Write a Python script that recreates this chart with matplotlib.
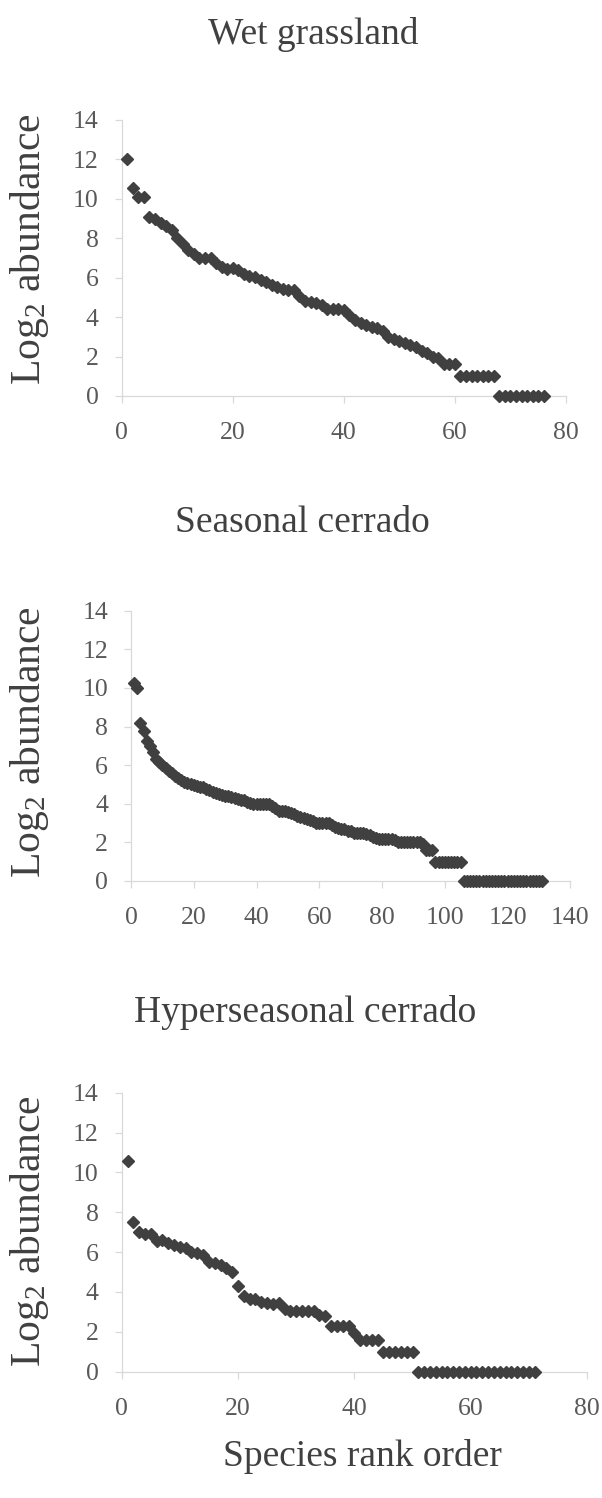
import numpy as np
import matplotlib
matplotlib.use("Agg")
import matplotlib.pyplot as plt

plt.rcParams['font.family'] = ['Liberation Serif', 'DejaVu Serif']
plt.rcParams['mathtext.fontset'] = 'custom'
plt.rcParams['mathtext.rm'] = 'Liberation Serif'
plt.rcParams['mathtext.it'] = 'Liberation Serif:italic'

# Log2 abundance by species rank.
wet = [12.0, 10.55, 10.1, 10.1, 9.1, 9.0, 8.8, 8.6, 8.4, 8.0,
       7.7, 7.4, 7.2, 7.0, 7.0, 7.0, 6.75, 6.55, 6.45, 6.5,
       6.4, 6.2, 6.1, 6.05, 5.9, 5.8, 5.65, 5.55, 5.45, 5.4,
       5.4, 5.05, 4.8, 4.75, 4.7, 4.6, 4.4, 4.4, 4.4, 4.35,
       4.1, 3.85, 3.7, 3.6, 3.5, 3.45, 3.3, 3.0, 2.9, 2.8,
       2.7, 2.6, 2.5, 2.3, 2.2, 2.0, 1.95, 1.6, 1.6, 1.6,
       1.0, 1.0, 1.0, 1.0, 1.0, 1.0, 1.0,
       0, 0, 0, 0, 0, 0, 0, 0, 0]

seasonal = [10.25, 10.0, 8.2, 7.75, 7.25, 7.0, 6.7, 6.3, 6.15, 6.0,
            5.85, 5.7, 5.58, 5.45, 5.35, 5.25, 5.15, 5.1, 5.0, 4.95,
            4.9, 4.85, 4.85, 4.75, 4.7, 4.6, 4.55, 4.5, 4.45, 4.4,
            4.4, 4.35, 4.3, 4.25, 4.2, 4.17, 4.1, 4.05, 4.0, 4.0,
            4.0, 4.0, 4.0, 4.0, 3.9, 3.8, 3.6, 3.6, 3.6, 3.55,
            3.5, 3.45, 3.35, 3.3, 3.25, 3.2, 3.15, 3.1, 3.0, 3.0,
            3.0, 3.0, 3.0, 2.9, 2.8, 2.75, 2.7, 2.7, 2.6, 2.6,
            2.5, 2.5, 2.5, 2.5, 2.45, 2.4, 2.3, 2.25, 2.2, 2.2,
            2.2, 2.2, 2.15, 2.1, 2.0, 2.0, 2.0, 2.0, 2.0, 2.0,
            2.0, 2.0, 1.9, 1.6, 1.6, 1.6,
            1.0, 1.0, 1.0, 1.0, 1.0, 1.0, 1.0, 1.0, 1.0,
            0, 0, 0, 0, 0, 0, 0, 0, 0, 0, 0, 0, 0,
            0, 0, 0, 0, 0, 0, 0, 0, 0, 0, 0, 0, 0]

hyper = [10.55, 7.5, 7.0, 6.9, 6.9, 6.55, 6.6, 6.45, 6.35, 6.25,
         6.2, 6.0, 5.95, 5.85, 5.5, 5.45, 5.35, 5.2, 5.0, 4.3,
         3.8, 3.65, 3.65, 3.5, 3.45, 3.4, 3.45, 3.15, 3.05, 3.05,
         3.05, 3.05, 3.05, 2.85, 2.8, 2.3, 2.3, 2.3, 2.3, 1.95,
         1.6, 1.6, 1.6, 1.6,
         1.0, 1.0, 1.0, 1.0, 1.0, 1.0,
         0, 0, 0, 0, 0, 0, 0, 0, 0, 0, 0,
         0, 0, 0, 0, 0, 0, 0, 0, 0, 0]

titles = ["Wet grassland", "Seasonal cerrado", "Hyperseasonal cerrado"]
series = [wet, seasonal, hyper]
xmax = [80, 140, 80]
xstep = [20, 20, 20]

W, H = 602, 1498
fig = plt.figure(figsize=(W/100, H/100), dpi=100)

# axes boxes in pixels: left, right, top(y=14), bottom(y=0)
boxes = [(121.7, 566.0, 120.0, 396.0),
         (131.0, 570.4, 610.7, 881.0),
         (121.7, 587.0, 1092.7, 1371.7)]
title_pos = [(313, 44.5), (302, 532), (305, 1022)]
ylab_pos = [249, 742, 1231]

txtc = '#404040'
axc = '#d9d9d9'

for i in range(3):
    l, r, t, b = boxes[i]
    ax = fig.add_axes([l/W, 1 - b/H, (r - l)/W, (b - t)/H])
    y = series[i]
    x = np.arange(1, len(y) + 1)
    ax.plot(x, y, 'D', color='#404040', ms=6.0, mec='#404040',
            clip_on=False, zorder=3)
    ax.set_xlim(0, xmax[i])
    ax.set_ylim(0, 14)
    ax.set_xticks(np.arange(0, xmax[i] + 1, xstep[i]))
    ax.set_yticks(np.arange(0, 15, 2))
    for s in ['top', 'right']:
        ax.spines[s].set_visible(False)
    for s in ['left', 'bottom']:
        ax.spines[s].set_color(axc)
        ax.spines[s].set_linewidth(0.9)
    ax.tick_params(axis='both', direction='out', length=5, width=0.9,
                   color=axc, labelcolor='#595959', labelsize=18.5)
    ax.tick_params(axis='y', pad=11.5)
    ax.tick_params(axis='x', pad=14)
    fig.text(title_pos[i][0]/W, 1 - title_pos[i][1]/H, titles[i],
             ha='center', va='baseline', fontsize=27, color=txtc)
    fig.text(30/W, 1 - ylab_pos[i]/H, r'$\mathrm{Log}_{2}$ abundance',
             ha='center', va='center', rotation=90, fontsize=30, color=txtc)

fig.text(362/W, 1 - 1466/H, "Species rank order", ha='center',
         va='baseline', fontsize=27, color=txtc)

fig.savefig("out.png", dpi=100)
